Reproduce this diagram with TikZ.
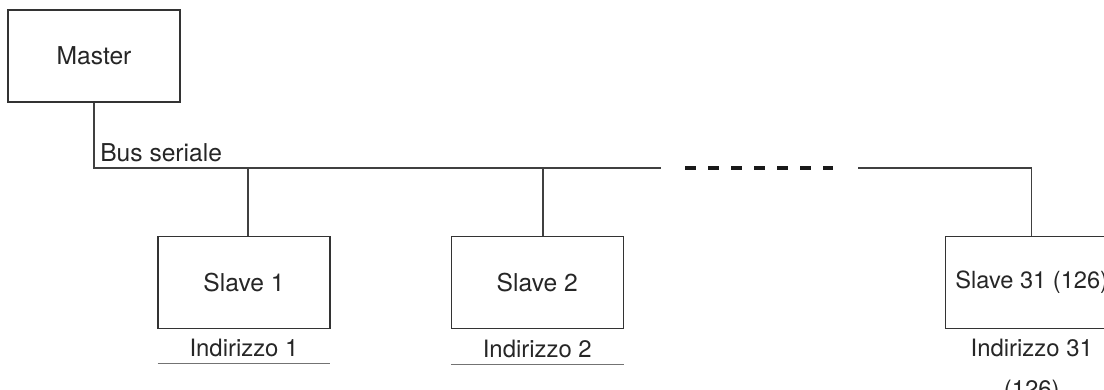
\documentclass[tikz,border=0pt]{standalone}
\usepackage{fontspec}
\setmainfont{TeX Gyre Heros}
\usepackage{tikz}
\usetikzlibrary{positioning, calc}
\tikzstyle{unit} = [rectangle,
minimum width=4.3cm,
minimum height=2.3cm,
text centered,
line width=0.9pt,
draw=black!80,
font=\fontsize{17.5}{21}\selectfont]
\tikzstyle{addr} = [inner sep=0pt,
minimum width=4.3cm,
text centered,
font=\fontsize{17}{21}\selectfont]
\tikzstyle{bus} = [line width=0.9pt, draw=black!75]
\tikzstyle{busgap} = [line width=2.2pt, draw=black!90, dash pattern=on 0.275cm off 0.3cm]
\tikzstyle{addrline} = [line width=0.8pt, draw=black!55]

\begin{document}
\begin{tikzpicture}[node distance=3 cm, text=black!85]
                \useasboundingbox (0,0) rectangle (27.6,9.725);
                \node (master) [unit] at (2.35,8.325) {Master};
                \node (slave1) [unit] at (6.1,2.6625) {Slave 1};
                \node (slave2) [unit, right=3cm of slave1] {Slave 2};
                \node (slaveN) [unit, right=8.03cm of slave2,
                        font=\fontsize{16.8}{21}\selectfont] {Slave 31 (126)};

                \node (addr1) [addr, below=0.25cm of slave1] {Indirizzo 1};
                \node (addr2) [addr, below=0.27cm of slave2] {Indirizzo 2};
                \node (addrN) [addr, align=center, below=0.25cm of slaveN,
                        font=\fontsize{17}{29}\selectfont] {Indirizzo 31\\(126)};

                % serial bus
                \coordinate (busend) at (16.525,5.525);
                \coordinate (dashA) at (17.125,5.525);
                \coordinate (dashB) at (20.825,5.525);
                \coordinate (busrest) at (21.45,5.525);
                \node (buslabel) [anchor=base west, inner sep=0pt,
                        font=\fontsize{17.5}{21}\selectfont] at (2.5,5.675) {Bus seriale};

                \draw [bus] (master.south) |- (busend);
                \draw [busgap] (dashA) -- (dashB);
                \draw [bus] (busrest) -| (slaveN.north);
                \draw [bus] ([xshift=0.1cm]slave1.north) -- ([xshift=0.1cm]slave1.north |- busend);
                \draw [bus] ([xshift=0.14cm]slave2.north) -- ([xshift=0.14cm]slave2.north |- busend);

                \draw [addrline] ([yshift=-0.15cm]addr1.south west) -- ([yshift=-0.15cm]addr1.south east);
                \draw [addrline] ([yshift=-0.15cm]addr2.south west) -- ([yshift=-0.15cm]addr2.south east);
            \end{tikzpicture}
\end{document}
